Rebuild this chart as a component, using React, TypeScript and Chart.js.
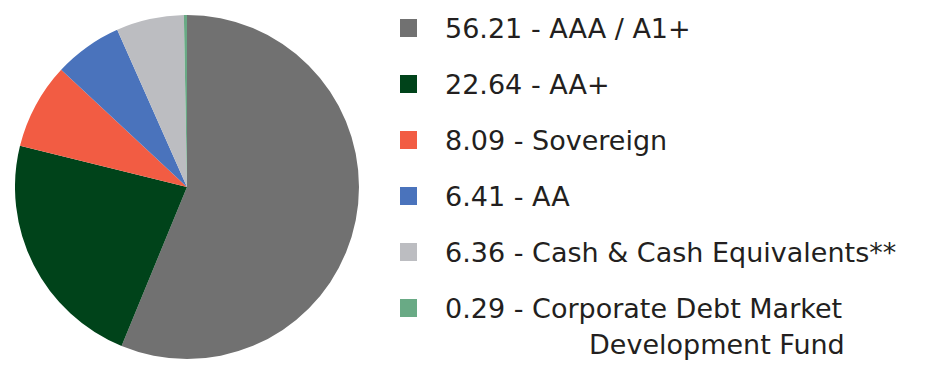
import React, { useEffect, useRef } from "react";
import { Chart, registerables } from "chart.js";

Chart.register(...registerables);

const categories = [
  "AAA / A1+",
  "AA+",
  "Sovereign",
  "AA",
  "Cash & Cash Equivalents**",
  "Corporate Debt Market",
];
const continuation = ["", "", "", "", "", "Development Fund"];
const values = [56.21, 22.64, 8.09, 6.41, 6.36, 0.29];
const valueLabels = ["56.21", "22.64", "8.09", "6.41", "6.36", "0.29"];
const colors = ["#717171", "#00431A", "#F25C43", "#4A73BC", "#BCBDC1", "#69AA85"];

export default function App() {
  const ref = useRef<HTMLCanvasElement>(null);
  useEffect(() => {
    const chart = new Chart(ref.current!, {
      type: "pie",
      data: {
        labels: categories,
        datasets: [{ data: values, backgroundColor: colors, borderWidth: 0 }],
      },
      options: {
        responsive: false,
        animation: false,
        layout: { padding: 0 },
        plugins: { legend: { display: false }, tooltip: { enabled: false } },
      },
    });
    return () => chart.destroy();
  }, []);

  const rowTop = 19;
  const rowGap = 56;
  const textStyle: React.CSSProperties = {
    position: "absolute",
    fontSize: 27,
    lineHeight: "28px",
    whiteSpace: "nowrap",
  };
  return (
    <div
      style={{
        position: "absolute",
        left: 0,
        top: 0,
        width: 941,
        height: 368,
        background: "#fff",
        fontFamily: "'DejaVu Sans', sans-serif",
        color: "#231F20",
      }}
    >
      <canvas
        ref={ref}
        width={344}
        height={344}
        style={{ position: "absolute", left: 15, top: 15, width: 344, height: 344 }}
      />
      {categories.map((c, i) => (
        <React.Fragment key={i}>
          <div
            style={{
              position: "absolute",
              left: 400,
              top: rowTop + rowGap * i,
              width: 17,
              height: 18,
              background: colors[i],
            }}
          />
          <div style={{ ...textStyle, left: 445, top: rowTop + rowGap * i - 4 }}>
            {valueLabels[i]} - {c}
          </div>
          {continuation[i] ? (
            <div style={{ ...textStyle, left: 589, top: rowTop + rowGap * i - 4 + 36 }}>
              {continuation[i]}
            </div>
          ) : null}
        </React.Fragment>
      ))}
    </div>
  );
}
